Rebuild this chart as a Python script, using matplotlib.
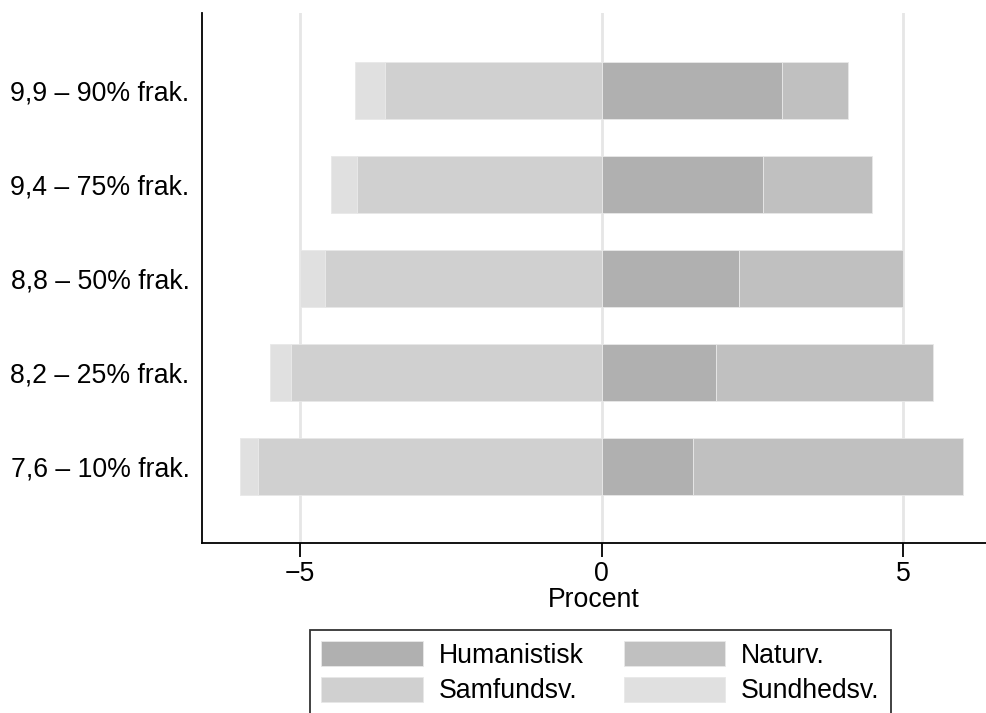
import matplotlib
matplotlib.use("Agg")
import matplotlib.pyplot as plt
from matplotlib.patches import Patch
import numpy as np

plt.rcParams["font.family"] = ["Liberation Sans", "DejaVu Sans"]

# bottom row first
categories = ["7,6 – 10% frak.", "8,2 – 25% frak.", "8,8 – 50% frak.",
              "9,4 – 75% frak.", "9,9 – 90% frak."]
humanistisk = [1.51, 1.90, 2.28, 2.67, 2.99]
naturv = [4.48, 3.59, 2.71, 1.82, 1.09]
samfundsv = [5.69, 5.14, 4.59, 4.05, 3.59]
sundhedsv = [0.30, 0.35, 0.40, 0.44, 0.49]
xticks = [-5, 0, 5]

colors = {"Humanistisk": "#b0b0b0", "Naturv.": "#c0c0c0",
          "Samfundsv.": "#d0d0d0", "Sundhedsv.": "#e0e0e0"}
fs = 19.2

fig = plt.figure(figsize=(9.86, 7.13), dpi=100)
ax = fig.add_axes([0.2049, 0.2384, 0.795, 0.7434])

y = np.arange(len(categories))
h = 0.606
hum = np.array(humanistisk)
sam = np.array(samfundsv)
ax.barh(y, hum, height=h, color=colors["Humanistisk"], edgecolor="#e8e8e8", linewidth=0.6, zorder=2)
ax.barh(y, naturv, left=hum, height=h, color=colors["Naturv."], edgecolor="#e8e8e8", linewidth=0.6, zorder=2)
ax.barh(y, -sam, height=h, color=colors["Samfundsv."], edgecolor="#e8e8e8", linewidth=0.6, zorder=2)
ax.barh(y, -np.array(sundhedsv), left=-sam, height=h, color=colors["Sundhedsv."],
        edgecolor="#e8e8e8", linewidth=0.6, zorder=2)

ax.set_xlim(-6.62, 6.37)
ax.set_ylim(-0.814, 4.824)
ax.set_xticks(xticks)
ax.set_yticks(y, categories)
ax.grid(axis="x", color="#e6e6e6", linewidth=2, zorder=0)
ax.set_axisbelow(True)
for side in ("top", "right"):
    ax.spines[side].set_visible(False)
for side in ("left", "bottom"):
    ax.spines[side].set_linewidth(1.3)
ax.tick_params(axis="x", length=10, width=1.3, pad=3, labelsize=fs)
ax.tick_params(axis="y", length=0, pad=9, labelsize=fs)
ax.set_xlabel("Procent", fontsize=fs, labelpad=0)

handles = [Patch(facecolor=colors[k], edgecolor="#e8e8e8", linewidth=0.6)
           for k in ("Humanistisk", "Samfundsv.", "Naturv.", "Sundhedsv.")]
labels = ["Humanistisk", "Samfundsv.", "Naturv.", "Sundhedsv."]
leg = fig.legend(handles, labels, ncol=2, loc="upper center",
                 bbox_to_anchor=(0.609, 0.116), fontsize=fs, frameon=True,
                 fancybox=False, edgecolor="black", handlelength=3.8,
                 handleheight=1.05, handletextpad=0.6, columnspacing=1.5,
                 labelspacing=0.3, borderpad=0.42, borderaxespad=0)
leg.get_frame().set_linewidth(1.3)

fig.savefig("out.png", dpi=100)
